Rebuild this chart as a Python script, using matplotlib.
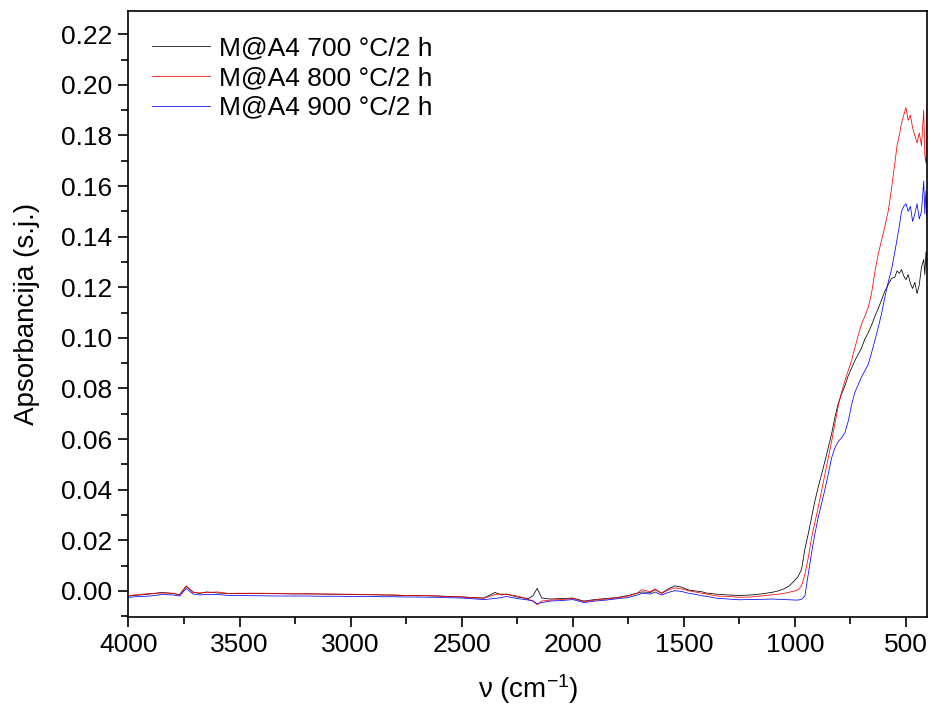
import matplotlib

matplotlib.use("Agg")
import matplotlib.pyplot as plt  # noqa: E402
from matplotlib.ticker import MultipleLocator  # noqa: E402

plt.rcParams["font.family"] = ["Liberation Sans", "DejaVu Sans"]
plt.rcParams["mathtext.default"] = "regular"

# wavenumber grid (cm-1)
wavenumber = [4000, 3950, 3900, 3850, 3800, 3770, 3740, 3710, 3680, 3650, 3600, 3550, 3500, 3450,
              3400, 3350, 3300, 3250, 3200, 3150, 3100, 3050, 3000, 2950, 2900, 2850, 2800, 2750,
              2700, 2650, 2600, 2550, 2500, 2450, 2400, 2350, 2320, 2300, 2250, 2200, 2180, 2160,
              2140, 2100, 2050, 2000, 1950, 1900, 1850, 1800, 1750, 1710, 1690, 1650, 1630, 1600,
              1570, 1540, 1510, 1480, 1450, 1420, 1400, 1350, 1300, 1250, 1200, 1150, 1100, 1075,
              1050, 1025, 1000, 985, 970, 955, 940, 925, 910, 895, 880, 865, 850, 835, 820, 805,
              790, 775, 760, 745, 730, 715, 700, 685, 670, 655, 640, 625, 610, 595, 580, 565, 550,
              540, 530, 520, 510, 500, 490, 480, 470, 460, 450, 440, 430, 420, 415, 410, 405]

abs_700 = [-0.0020, -0.0016, -0.0012, -0.0006, -0.0010, -0.0015, 0.0018, -0.0004, -0.0010, -0.0004,
           -0.0008, -0.0010, -0.0010, -0.0009, -0.0010, -0.0011, -0.0011, -0.0012, -0.0011, -0.0012,
           -0.0013, -0.0013, -0.0014, -0.0015, -0.0015, -0.0016, -0.0017, -0.0018, -0.0018, -0.0019,
           -0.0020, -0.0022, -0.0024, -0.0026, -0.0028, -0.0006, -0.0016, -0.0012, -0.0024, -0.0030,
           -0.0020, 0.0010, -0.0028, -0.0032, -0.0030, -0.0028, -0.0040, -0.0034, -0.0030, -0.0026,
           -0.0018, -0.0009, -0.0004, -0.0006, 0.0005, -0.0009, 0.0008, 0.0020, 0.0015, 0.0004,
           0.0000, -0.0003, -0.0008, -0.0013, -0.0016, -0.0018, -0.0016, -0.0012, -0.0005, 0.0000,
           0.0008, 0.0020, 0.0042, 0.0058, 0.0085, 0.0165, 0.0225, 0.0290, 0.0355, 0.0410, 0.0460,
           0.0512, 0.0565, 0.0620, 0.0685, 0.0740, 0.0778, 0.0810, 0.0850, 0.0880, 0.0910, 0.0935,
           0.0960, 0.0995, 0.1020, 0.1050, 0.1085, 0.1115, 0.1150, 0.1185, 0.1210, 0.1235, 0.1240,
           0.1265, 0.1255, 0.1270, 0.1245, 0.1230, 0.1250, 0.1215, 0.1195, 0.1220, 0.1175, 0.1210,
           0.1280, 0.1310, 0.1250, 0.1340, 0.1280]

abs_800 = [-0.0018, -0.0014, -0.0010, -0.0008, -0.0009, -0.0016, 0.0020, -0.0006, -0.0008, -0.0006,
           -0.0004, -0.0010, -0.0009, -0.0010, -0.0009, -0.0010, -0.0011, -0.0011, -0.0012, -0.0012,
           -0.0012, -0.0013, -0.0013, -0.0014, -0.0015, -0.0016, -0.0016, -0.0018, -0.0019, -0.0019,
           -0.0021, -0.0023, -0.0023, -0.0027, -0.0029, -0.0014, -0.0012, -0.0014, -0.0020, -0.0034,
           -0.0038, -0.0055, -0.0040, -0.0036, -0.0034, -0.0030, -0.0042, -0.0036, -0.0032, -0.0027,
           -0.0020, -0.0009, 0.0005, -0.0003, 0.0008, -0.0010, 0.0004, 0.0012, 0.0008, 0.0001,
           -0.0004, -0.0009, -0.0012, -0.0020, -0.0022, -0.0025, -0.0024, -0.0020, -0.0015, -0.0013,
           -0.0010, -0.0005, 0.0000, 0.0005, 0.0020, 0.0065, 0.0130, 0.0210, 0.0270, 0.0330, 0.0395,
           0.0460, 0.0525, 0.0590, 0.0660, 0.0730, 0.0785, 0.0830, 0.0870, 0.0910, 0.0960, 0.1010,
           0.1055, 0.1085, 0.1120, 0.1175, 0.1260, 0.1330, 0.1385, 0.1440, 0.1500, 0.1590, 0.1690,
           0.1760, 0.1800, 0.1850, 0.1880, 0.1910, 0.1860, 0.1880, 0.1830, 0.1800, 0.1770, 0.1810,
           0.1760, 0.1900, 0.1720, 0.1690, 0.1920]

abs_900 = [-0.0025, -0.0022, -0.0020, -0.0014, -0.0016, -0.0020, 0.0010, -0.0012, -0.0016, -0.0014,
           -0.0014, -0.0018, -0.0018, -0.0019, -0.0019, -0.0020, -0.0020, -0.0020, -0.0020, -0.0021,
           -0.0021, -0.0021, -0.0022, -0.0022, -0.0022, -0.0023, -0.0023, -0.0024, -0.0024, -0.0025,
           -0.0025, -0.0027, -0.0028, -0.0031, -0.0034, -0.0030, -0.0026, -0.0022, -0.0030, -0.0036,
           -0.0040, -0.0050, -0.0046, -0.0040, -0.0038, -0.0034, -0.0046, -0.0040, -0.0036, -0.0031,
           -0.0026, -0.0016, -0.0010, -0.0012, -0.0004, -0.0016, -0.0006, 0.0001, -0.0002, -0.0009,
           -0.0013, -0.0019, -0.0021, -0.0029, -0.0032, -0.0035, -0.0034, -0.0033, -0.0032, -0.0033,
           -0.0034, -0.0035, -0.0036, -0.0036, -0.0033, -0.0020, 0.0065, 0.0150, 0.0225, 0.0290,
           0.0345, 0.0400, 0.0460, 0.0525, 0.0565, 0.0590, 0.0605, 0.0625, 0.0670, 0.0735, 0.0785,
           0.0815, 0.0845, 0.0870, 0.0895, 0.0940, 0.0990, 0.1040, 0.1095, 0.1160, 0.1220, 0.1270,
           0.1340, 0.1390, 0.1440, 0.1500, 0.1520, 0.1530, 0.1500, 0.1520, 0.1460, 0.1490, 0.1530,
           0.1470, 0.1500, 0.1620, 0.1490, 0.1580, 0.1470]

labels = ["M@A4 700 °C/2 h", "M@A4 800 °C/2 h", "M@A4 900 °C/2 h"]
colors = ["black", "red", "blue"]

fig = plt.figure(figsize=(9.31, 7.13), dpi=100)
ax = fig.add_axes([0.138, 0.135, 0.858, 0.85])

for y, lab, c in zip([abs_700, abs_800, abs_900], labels, colors):
    ax.plot(wavenumber, y, color=c, lw=0.55, label=lab)

ax.set_xlim(4000, 404)
ax.set_ylim(-0.0102, 0.2293)
ax.xaxis.set_major_locator(MultipleLocator(500))
ax.xaxis.set_minor_locator(MultipleLocator(250))
ax.yaxis.set_major_locator(MultipleLocator(0.02))
ax.yaxis.set_minor_locator(MultipleLocator(0.01))
ax.yaxis.set_major_formatter(matplotlib.ticker.FormatStrFormatter("%.2f"))
ax.tick_params(which="both", direction="out", width=1.2, labelsize=19, top=False, right=False)
ax.tick_params(which="major", length=7.5, pad=4)
ax.tick_params(which="minor", length=5)
for s in ax.spines.values():
    s.set_linewidth(1.2)

ax.set_xlabel("ν (cm$^{-1}$)", fontsize=20, labelpad=11)
ax.set_ylabel("Apsorbancija (s.j.)", fontsize=20, labelpad=15)

ax.legend(loc="upper left", bbox_to_anchor=(0.029, 0.958), frameon=False, fontsize=19,
          handlelength=2.2, handletextpad=0.35, labelspacing=0.22, borderpad=0, borderaxespad=0)

fig.savefig("out.png", dpi=100, facecolor="white")
